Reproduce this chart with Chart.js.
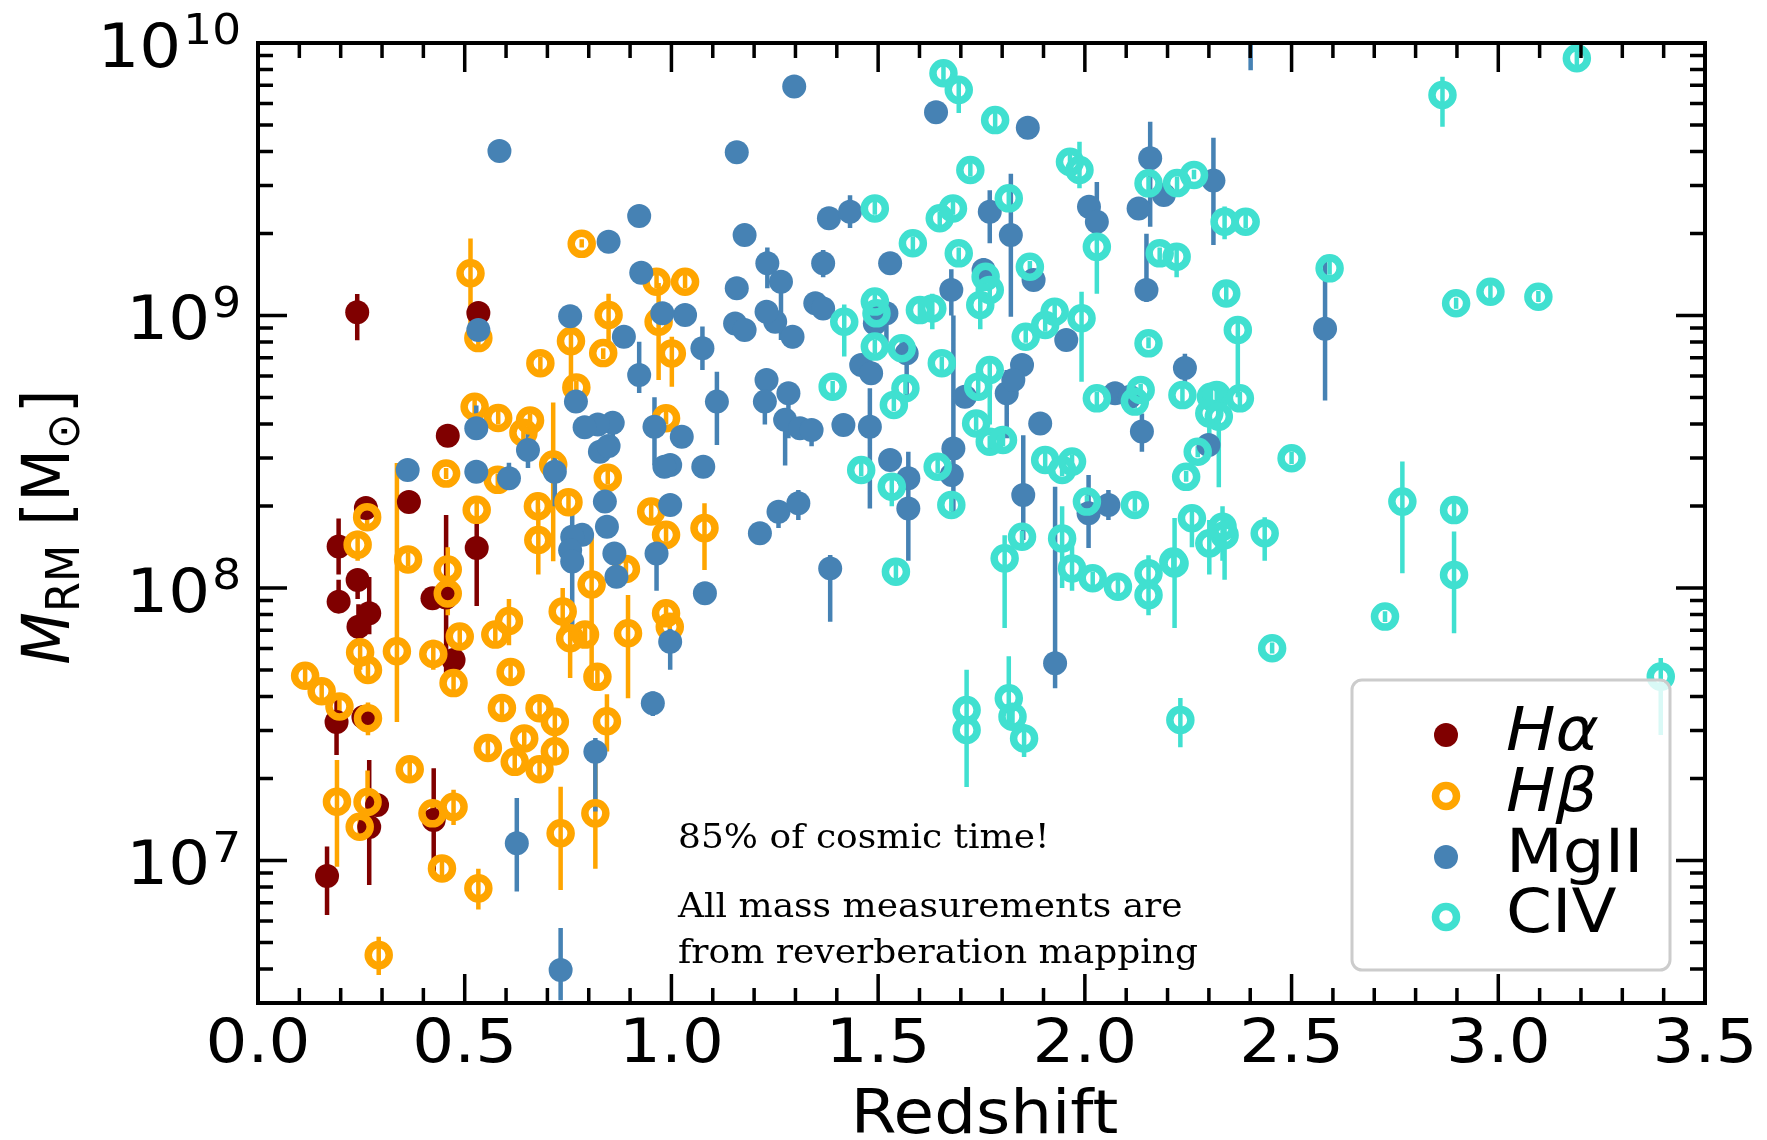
<!DOCTYPE html>
<html><head><meta charset="utf-8">
<script src="https://cdn.jsdelivr.net/npm/chart.js@4.4.0/dist/chart.umd.min.js"></script>
<style>html,body{margin:0;padding:0;background:#fff;overflow:hidden}</style>
</head><body>
<canvas id="c" width="1767" height="1140" style="width:1767px;height:1140px;display:block"></canvas>
<script>
// ---------- DATA: rows are [redshift, log10 M, log10 upper error, log10 lower error] ----------
const haRows = [
[0.240,9.012,9.079,8.909],[0.533,9.009,null,null],[0.459,8.559,null,null],[0.365,8.316,null,null],
[0.261,8.294,null,null],[0.195,8.152,8.255,8.050],[0.529,8.147,8.242,7.934],[0.241,8.029,8.070,7.960],
[0.195,7.950,8.030,7.910],[0.269,7.907,8.040,7.830],[0.243,7.858,7.940,7.800],[0.422,7.962,null,null],
[0.455,7.965,8.268,7.669],[0.473,7.736,null,null],[0.190,7.508,7.597,7.387],[0.255,7.527,null,null],
[0.288,7.204,null,null],[0.269,7.123,7.369,6.910],[0.425,7.149,7.339,6.947],[0.167,6.943,7.051,6.800]
];
const hbRows = [
[0.114,7.678,7.72,7.64],[0.154,7.621,7.66,7.58],[0.197,7.565,7.60,7.53],[0.191,7.216,7.369,6.977],
[0.247,7.764,7.83,7.70],[0.266,7.699,7.74,7.65],[0.266,7.522,7.58,7.46],[0.241,8.159,8.21,8.10],
[0.264,8.260,8.29,8.23],[0.246,7.124,7.17,7.08],[0.265,7.215,7.33,7.10],[0.292,6.653,6.72,6.58],
[0.336,7.768,8.459,7.508],[0.363,8.105,8.13,8.08],[0.367,7.335,7.38,7.29],[0.422,7.173,7.22,7.12],
[0.424,7.758,7.81,7.70],[0.445,6.971,7.02,6.93],[0.455,8.420,8.44,8.40],[0.459,8.068,8.15,7.99],
[0.459,7.980,8.05,7.90],[0.473,7.651,7.69,7.61],[0.473,7.197,7.26,7.13],[0.488,7.822,7.87,7.77],
[0.514,9.155,9.283,8.965],[0.524,8.665,8.70,8.63],[0.529,8.287,8.33,8.24],[0.533,8.917,8.95,8.88],
[0.533,6.898,6.97,6.82],[0.556,7.413,7.45,7.37],[0.574,7.829,7.87,7.79],[0.581,8.624,8.65,8.60],
[0.580,8.397,8.42,8.37],[0.607,7.879,7.96,7.79],[0.611,7.692,7.73,7.65],[0.590,7.560,7.60,7.52],
[0.621,7.362,7.40,7.32],[0.644,7.448,7.49,7.40],[0.658,8.615,8.64,8.59],[0.642,8.570,8.60,8.54],
[0.677,8.300,8.35,8.25],[0.678,8.176,8.29,8.05],[0.681,7.559,7.60,7.51],[0.681,7.335,7.38,7.29],
[0.683,8.825,8.85,8.80],[0.714,8.453,8.681,8.098],[0.718,7.509,7.55,7.45],[0.718,7.401,7.45,7.35],
[0.732,7.100,7.271,6.892],[0.737,7.914,8.00,7.83],[0.751,8.315,8.36,8.27],[0.755,7.816,7.87,7.67],
[0.757,8.906,8.996,8.690],[0.770,8.736,8.76,8.71],[0.783,9.263,9.28,9.25],[0.791,7.829,7.87,7.79],
[0.807,8.013,8.20,7.64],[0.816,7.173,7.44,6.97],[0.821,7.674,7.72,7.63],[0.844,7.511,7.61,7.40],
[0.846,8.405,8.43,8.38],[0.848,9.002,9.08,8.897],[0.835,8.862,8.88,8.84],[0.890,8.070,8.10,8.04],
[0.895,7.834,7.974,7.595],[0.951,8.281,8.31,8.25],[0.964,9.124,9.15,9.10],[0.969,8.977,9.119,8.763],
[0.987,8.623,8.65,8.60],[0.987,8.195,8.22,8.17],[0.987,7.907,7.94,7.88],[0.996,7.858,7.89,7.83],
[1.001,8.861,8.922,8.739],[1.033,9.124,9.15,9.10],[1.080,8.220,8.311,8.066]
];
const mgRows = [
[0.584,9.604,null,null],[0.533,8.947,8.97,8.92],[0.755,8.997,null,null],[0.848,9.271,null,null],
[1.297,9.840,null,null],[1.158,9.599,null,null],[0.922,9.365,null,null],[1.177,9.295,null,null],
[0.927,9.157,null,null],[1.232,9.192,9.25,9.10],[1.265,9.124,9.15,8.91],[1.381,9.357,null,null],
[1.432,9.381,9.441,9.321],[1.640,9.746,null,null],[1.862,9.689,null,null],[1.158,9.100,9.14,9.06],
[1.154,8.971,null,null],[1.177,8.947,null,null],[1.033,9.002,null,null],[0.978,9.008,null,null],
[0.885,8.922,8.96,8.89],[0.922,8.782,8.904,8.716],[1.075,8.880,8.96,8.80],[1.251,8.977,null,null],
[1.230,9.014,9.05,8.97],[1.293,8.922,8.96,8.88],[1.348,9.045,null,null],[1.367,9.026,null,null],
[1.367,9.192,9.24,9.14],[1.529,9.192,null,null],[1.459,8.818,null,null],[1.483,8.788,null,null],
[1.492,8.971,null,null],[1.520,9.008,9.06,8.90],[1.770,9.381,9.46,9.265],[1.821,9.295,9.52,8.995],
[1.876,9.130,null,null],[1.677,9.094,9.17,9.00],[1.682,8.512,9.00,8.262],[1.755,9.167,9.21,9.11],
[2.010,9.399,null,null],[2.029,9.344,9.49,9.30],[2.158,9.577,9.711,9.326],[2.130,9.393,null,null],
[2.191,9.442,null,null],[2.149,9.094,9.30,9.05],[1.955,8.910,null,null],[1.848,8.818,8.85,8.78],
[1.110,8.684,8.794,8.525],[1.230,8.763,null,null],[1.226,8.684,8.72,8.60],[1.283,8.715,8.75,8.55],
[1.275,8.617,8.65,8.45],[1.311,8.586,null,null],[1.339,8.580,8.62,8.52],[1.416,8.598,null,null],
[1.480,8.592,8.733,8.292],[1.508,9.014,null,null],[1.569,8.861,8.90,8.70],[1.025,8.555,null,null],
[0.997,8.451,null,null],[1.077,8.445,8.48,8.41],[0.997,8.305,null,null],[1.214,8.201,null,null],
[1.259,8.280,8.32,8.22],[1.307,8.311,8.36,8.25],[1.081,7.981,null,null],[1.384,8.072,8.121,7.876],
[0.997,7.803,7.85,7.70],[1.529,8.470,null,null],[1.573,8.403,8.50,8.30],[1.573,8.292,8.34,8.10],
[1.678,8.415,null,null],[1.710,8.702,null,null],[1.811,8.715,8.80,8.55],[1.827,8.763,null,null],
[1.892,8.604,null,null],[1.851,8.341,8.561,8.176],[2.138,8.574,8.64,8.50],[2.073,8.715,null,null],
[2.109,8.702,null,null],[2.009,8.274,8.415,8.147],[2.057,8.305,8.36,8.25],[1.928,7.724,8.372,7.632],
[0.858,8.606,8.65,8.50],[0.822,8.600,null,null],[0.790,8.590,null,null],[0.959,8.592,8.70,8.45],
[0.827,8.500,null,null],[0.848,8.521,null,null],[0.983,8.445,null,null],[0.839,8.317,null,null],
[0.844,8.225,null,null],[0.784,8.195,null,null],[0.964,8.127,8.20,7.99],[0.862,8.127,null,null],
[0.867,8.041,null,null],[0.955,7.577,7.62,7.53],[0.816,7.399,7.45,7.18],[0.626,7.063,7.229,6.886],
[0.732,6.598,6.752,6.487],[0.362,8.433,null,null],[0.528,8.586,8.67,8.55],[0.528,8.427,null,null],
[0.607,8.403,8.46,8.36],[0.653,8.506,8.58,8.44],[0.718,8.427,8.50,8.30],[0.769,8.684,null,null],
[0.760,8.188,8.275,7.846],[0.755,8.139,null,null],[0.760,8.097,null,null],[2.311,9.495,9.652,9.259],
[2.581,8.951,9.219,8.688],[2.242,8.807,8.86,8.75],[2.299,8.525,null,null],[2.401,10.12,10.30,9.90]
];
const civRows = [
[1.658,9.889,9.93,9.85],[1.695,9.828,9.86,9.743],[1.783,9.717,9.745,9.69],[1.723,9.534,9.56,9.51],
[1.492,9.393,9.42,9.37],[1.584,9.265,9.29,9.24],[1.649,9.357,9.38,9.33],[1.681,9.393,9.42,9.37],
[1.695,9.228,9.25,9.20],[1.816,9.430,9.46,9.40],[1.867,9.179,9.20,9.16],[1.964,9.564,9.59,9.54],
[1.987,9.534,9.638,9.467],[2.029,9.252,9.30,9.08],[2.181,9.228,9.25,9.20],[2.154,9.485,9.51,9.46],
[2.223,9.486,9.51,9.46],[1.418,8.977,9.04,8.85],[1.492,9.051,9.08,9.02],[1.496,9.008,9.03,8.98],
[1.492,8.886,8.91,8.86],[1.557,8.880,8.91,8.85],[1.390,8.739,8.76,8.71],[1.631,9.026,9.08,8.95],
[1.601,9.020,9.05,8.99],[1.747,9.039,9.08,8.95],[1.770,9.094,9.12,9.07],[1.760,9.142,9.17,9.12],
[1.654,8.825,8.85,8.80],[1.770,8.800,8.85,8.60],[1.857,8.922,8.95,8.90],[1.904,8.965,8.99,8.94],
[1.927,9.014,9.04,8.99],[1.992,8.990,9.087,8.757],[2.154,8.898,8.92,8.88],[1.742,8.739,8.77,8.71],
[3.190,9.944,9.975,9.915],[2.865,9.809,9.876,9.693],[2.264,9.516,9.535,9.50],[2.338,9.344,9.40,9.28],
[2.389,9.344,9.37,9.32],[2.222,9.216,9.25,9.14],[2.342,9.081,9.11,9.05],[2.592,9.173,9.20,9.15],
[2.370,8.947,8.99,8.70],[2.898,9.045,9.065,9.025],[2.981,9.087,9.13,9.05],[3.097,9.069,9.09,9.05],
[2.236,8.708,8.74,8.68],[2.305,8.702,8.73,8.68],[2.319,8.708,8.74,8.68],[2.375,8.696,8.72,8.67],
[2.301,8.641,8.70,8.55],[2.324,8.629,8.70,8.37],[2.273,8.500,8.52,8.48],[2.245,8.408,8.43,8.39],
[2.500,8.476,8.50,8.455],[2.768,8.317,8.464,8.054],[2.893,8.286,8.32,8.24],[2.893,8.048,8.207,7.834],
[2.726,7.895,7.915,7.875],[2.453,7.779,7.80,7.76],[2.259,8.256,8.30,8.15],[2.301,8.164,8.25,8.05],
[2.338,8.194,8.25,8.03],[2.333,8.225,8.30,8.10],[2.435,8.201,8.26,8.10],[2.217,8.090,8.257,7.853],
[2.231,7.516,7.596,7.416],[3.393,7.675,7.743,7.461],[1.566,8.733,8.76,8.71],[1.538,8.672,8.70,8.65],
[2.029,8.696,8.72,8.67],[2.135,8.727,8.75,8.70],[2.121,8.684,8.71,8.66],[1.459,8.433,8.46,8.41],
[1.533,8.372,8.42,8.30],[1.644,8.445,8.47,8.42],[1.677,8.305,8.33,8.28],[1.737,8.604,8.63,8.58],
[1.770,8.537,8.56,8.51],[1.802,8.543,8.57,8.52],[1.904,8.470,8.50,8.44],[1.945,8.433,8.46,8.41],
[1.969,8.464,8.49,8.44],[2.005,8.317,8.34,8.29],[2.121,8.305,8.33,8.28],[1.543,8.060,8.10,8.02],
[1.806,8.109,8.194,7.853],[1.848,8.188,8.21,8.16],[1.945,8.182,8.30,8.00],[1.969,8.072,8.21,7.99],
[2.019,8.036,8.06,8.01],[2.080,8.005,8.05,7.96],[2.154,8.054,8.12,7.98],[2.154,7.974,8.03,7.90],
[2.214,8.097,8.12,8.07],[1.714,7.552,7.70,7.27],[1.714,7.479,7.51,7.45],[1.816,7.595,7.75,7.50],
[1.825,7.528,7.56,7.50],[1.853,7.448,7.50,7.38]
];
const seriesRows   = [haRows, hbRows, mgRows, civRows];
const seriesLabels = ['Hα', 'Hβ', 'MgII', 'CIV'];
const seriesItalic = [true, true, false, false];
const seriesColors = ['#800000', '#FFA500', '#4682B4', '#40E0D0'];
const seriesHollow = [false, true, false, true];
const xTickValues  = [0, 0.5, 1, 1.5, 2, 2.5, 3, 3.5];
const xTickLabels  = ['0.0', '0.5', '1.0', '1.5', '2.0', '2.5', '3.0', '3.5'];
const yTickExponents = [7, 8, 9, 10];
const xTitle = 'Redshift';
const annotationLines = ['85% of cosmic time!', 'All mass measurements are', 'from reverberation mapping'];

// ---------- LAYOUT / STYLE ----------
const W = 1767, H = 1140;
const AREA = {left: 258, top: 43, right: 1705, bottom: 1003};
const SX = 1.08;               // horizontal stretch of the reference text
const FONT = '"DejaVu Sans"';
const FILLED_R = 12, HOLLOW_R = 10.5, HOLLOW_BW = 7.5;

function stretchedText(ctx, str, x, y, font, align, sx) {
  ctx.save();
  ctx.translate(x, y);
  ctx.scale(sx, 1);
  ctx.font = font;
  ctx.textAlign = align;
  ctx.textBaseline = 'alphabetic';
  ctx.fillText(str, 0, 0);
  ctx.restore();
}

const errorBars = {
  id: 'errorBars',
  beforeDatasetsDraw(chart) {
    const {ctx, chartArea: a, scales: {x, y}} = chart;
    ctx.save();
    ctx.beginPath();
    ctx.rect(a.left, a.top, a.right - a.left, a.bottom - a.top);
    ctx.clip();
    ctx.lineWidth = 4.5;
    ctx.lineCap = 'butt';
    seriesRows.forEach((rows, si) => {
      ctx.strokeStyle = seriesColors[si];
      ctx.beginPath();
      rows.forEach(r => {
        if (r[2] == null) return;
        const px = x.getPixelForValue(r[0]);
        ctx.moveTo(px, y.getPixelForValue(Math.pow(10, r[2])));
        ctx.lineTo(px, y.getPixelForValue(Math.pow(10, r[3])));
      });
      ctx.stroke();
    });
    ctx.restore();
  }
};

const chrome = {
  id: 'chrome',
  afterDraw(chart) {
    const {ctx, chartArea: a, scales: {x, y}} = chart;
    ctx.save();
    ctx.fillStyle = '#000';
    ctx.strokeStyle = '#000';
    const majL = 29, minL = 15;
    ctx.lineWidth = 3.5;
    ctx.beginPath();
    const xt = (v, len) => {
      const px = x.getPixelForValue(v);
      ctx.moveTo(px, a.bottom); ctx.lineTo(px, a.bottom - len);
      ctx.moveTo(px, a.top); ctx.lineTo(px, a.top + len);
    };
    const yt = (v, len) => {
      const py = y.getPixelForValue(v);
      ctx.moveTo(a.left, py); ctx.lineTo(a.left + len, py);
      ctx.moveTo(a.right, py); ctx.lineTo(a.right - len, py);
    };
    xTickValues.forEach(v => xt(v, majL));
    for (let i = 1; i < 35; i++) { if (i % 5) xt(i / 10, minL); }
    yTickExponents.forEach(e => yt(Math.pow(10, e), majL));
    for (let d = 6; d <= 9; d++) for (let k = 2; k <= 9; k++) {
      const v = k * Math.pow(10, d);
      if (v > y.min * 1.02 && v < y.max) yt(v, minL);
    }
    ctx.stroke();
    ctx.lineWidth = 4;
    ctx.strokeRect(a.left, a.top, a.right - a.left, a.bottom - a.top);

    xTickValues.forEach((v, i) => {
      stretchedText(ctx, xTickLabels[i], x.getPixelForValue(v), 1062, '61px ' + FONT, 'center', SX);
    });
    yTickExponents.forEach(e => {
      const py = y.getPixelForValue(Math.pow(10, e));
      const right = 241;
      ctx.font = '42px ' + FONT;
      const ew = ctx.measureText(String(e)).width * SX;
      stretchedText(ctx, String(e), right - ew, py + 1, '42px ' + FONT, 'left', SX);
      stretchedText(ctx, '10', right - ew - 2, py + 23.5, '61px ' + FONT, 'right', SX);
    });
    stretchedText(ctx, xTitle, (a.left + a.right) / 2 + 3, 1133, '61px ' + FONT, 'center', SX);
    const segs = [
      {t: 'M', f: 'italic 61px ' + FONT, dy: 0},
      {t: 'RM', f: '43px ' + FONT, dy: 9},
      {t: ' [M', f: '61px ' + FONT, dy: 0},
      {t: '\u2299', f: '43px ' + FONT, dy: 9},
      {t: ']', f: '61px ' + FONT, dy: 0}
    ];
    let tw = 0;
    segs.forEach(s => { ctx.font = s.f; s.w = ctx.measureText(s.t).width; tw += s.w; });
    ctx.save();
    ctx.translate(69, (a.top + a.bottom) / 2 + 4);
    ctx.rotate(-Math.PI / 2);
    ctx.scale(1, SX);
    ctx.textAlign = 'left';
    ctx.textBaseline = 'alphabetic';
    let cx = -tw / 2;
    segs.forEach(s => { ctx.font = s.f; ctx.fillText(s.t, cx, s.dy); cx += s.w; });
    ctx.restore();

    ctx.font = '33px "DejaVu Serif"';
    const asx = 520 / ctx.measureText(annotationLines[2]).width;
    const aBase = [848, 917, 963];
    annotationLines.forEach((t, i) => stretchedText(ctx, t, 678, aBase[i], '33px "DejaVu Serif"', 'left', asx));

    const L = {x: 1352, y: 680, w: 318, h: 290, r: 10};
    ctx.beginPath();
    ctx.roundRect(L.x, L.y, L.w, L.h, L.r);
    ctx.fillStyle = 'rgba(255,255,255,0.8)';
    ctx.fill();
    ctx.lineWidth = 3;
    ctx.strokeStyle = '#cccccc';
    ctx.stroke();
    const ly = [735, 796, 857, 917];
    seriesLabels.forEach((lab, i) => {
      ctx.beginPath();
      if (seriesHollow[i]) {
        ctx.arc(1446, ly[i], HOLLOW_R, 0, Math.PI * 2);
        ctx.lineWidth = HOLLOW_BW;
        ctx.strokeStyle = seriesColors[i];
        ctx.stroke();
      } else {
        ctx.arc(1446, ly[i], FILLED_R, 0, Math.PI * 2);
        ctx.fillStyle = seriesColors[i];
        ctx.fill();
      }
      ctx.fillStyle = '#000';
      stretchedText(ctx, lab, 1506, ly[i] + 15, (seriesItalic[i] ? 'italic ' : '') + '61px ' + FONT, 'left', SX);
    });
    ctx.restore();
  }
};

const datasets = seriesRows.map((rows, i) => ({
  label: seriesLabels[i],
  data: rows.map(r => ({x: r[0], y: Math.pow(10, r[1])})),
  pointStyle: 'circle',
  pointRadius: seriesHollow[i] ? HOLLOW_R : FILLED_R,
  pointBorderWidth: seriesHollow[i] ? HOLLOW_BW : 0,
  pointBackgroundColor: seriesHollow[i] ? 'rgba(0,0,0,0)' : seriesColors[i],
  pointBorderColor: seriesColors[i],
  showLine: false,
  clip: 0,
  order: 4 - i
}));

new Chart(document.getElementById('c'), {
  type: 'scatter',
  data: {datasets},
  options: {
    responsive: false,
    animation: false,
    devicePixelRatio: 1,
    events: [],
    layout: {padding: {left: 0, top: AREA.top, right: W - AREA.right, bottom: 0}},
    plugins: {legend: {display: false}, tooltip: {enabled: false}},
    scales: {
      x: {
        type: 'linear', position: 'bottom', min: 0, max: 3.5,
        grid: {display: false}, border: {display: false}, ticks: {display: false},
        afterFit(s) { s.height = H - AREA.bottom; }
      },
      y: {
        type: 'logarithmic', position: 'left', min: 3.0e6, max: 1e10,
        grid: {display: false}, border: {display: false}, ticks: {display: false},
        afterFit(s) { s.width = AREA.left; }
      }
    }
  },
  plugins: [errorBars, chrome]
});
</script>
</body></html>
